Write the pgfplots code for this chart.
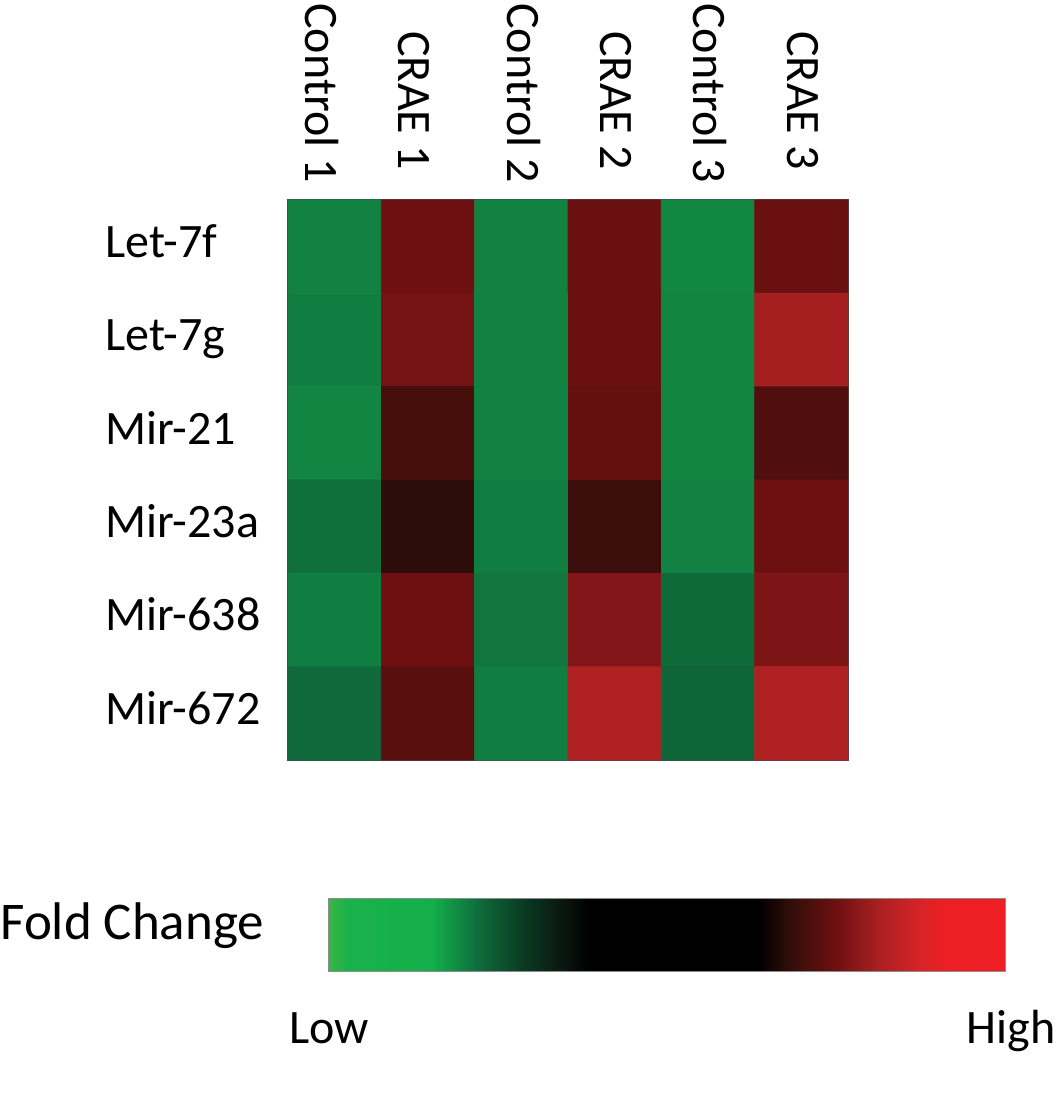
\documentclass[border=0pt]{standalone}
\usepackage{pgfplots}
\pgfplotsset{compat=1.18}
\usepackage{pgfplotstable}
\usepackage{fontspec}
\setmainfont{Carlito}
\pgfplotsset{colormap={foldchange}{
 rgb255(0pt)=(60,180,70);
 rgb255(30pt)=(25,178,75);
 rgb255(153pt)=(20,175,75);
 rgb255(220pt)=(15,110,60);
 rgb255(286pt)=(10,60,35);
 rgb255(350pt)=(10,20,15);
 rgb255(385pt)=(0,0,0);
 rgb255(636pt)=(0,0,0);
 rgb255(683pt)=(50,14,10);
 rgb255(750pt)=(110,16,17);
 rgb255(814pt)=(170,32,34);
 rgb255(880pt)=(220,35,38);
 rgb255(915pt)=(237,30,36);
 rgb255(1000pt)=(237,30,36)}}

% x = sample (Control 1, CRAE 1, Control 2, CRAE 2, Control 3, CRAE 3)
% y = miRNA (Let-7f, Let-7g, Mir-21, Mir-23a, Mir-638, Mir-672)
\pgfplotstableread{
x y c
0 0 199
1 0 750
2 0 199
3 0 745
4 0 194
5 0 745
0 1 204
1 1 758
2 1 199
3 1 745
4 1 197
5 1 809
0 2 196
1 2 706
2 2 199
3 2 740
4 2 197
5 2 717
0 3 218
1 3 678
2 3 204
3 3 694
4 3 199
5 3 750
0 4 204
1 4 750
2 4 212
3 4 771
4 4 225
5 4 766
0 5 226
1 5 728
2 5 204
3 5 819
4 5 230
5 5 819
}\heat

\begin{document}
\begin{tikzpicture}
\useasboundingbox (0,0) rectangle (531.5pt,547.5pt);
\begin{axis}[
 at={(144pt,167.5pt)}, anchor=south west,
 scale only axis, width=280pt, height=280pt,
 xmin=-0.5, xmax=5.5, ymin=-0.5, ymax=5.5,
 y dir=reverse,
 xtick=\empty,
 ytick={0,...,5},
 yticklabels={Let-7f,Let-7g,Mir-21,Mir-23a,Mir-638,Mir-672},
 yticklabel style={font=\fontsize{24}{28}\selectfont, anchor=base west, inner sep=0pt, xshift=-91.5pt, yshift=-5.5pt},
 major tick length=0pt,
 axis line style={draw=black!70, line width=0.6pt},
 colormap name=foldchange,
 point meta min=0, point meta max=1000,
 colorbar horizontal,
 colorbar/width=36.5pt,
 colorbar style={at={(parent axis.south west)}, anchor=north west, xshift=20pt, yshift=-60.5pt,
   scale only axis, width=338.5pt, xtick=\empty, major tick length=0pt, y dir=normal,
   axis line style={draw=black!45, line width=0.5pt}},
]
\addplot[matrix plot*, mesh/cols=6, point meta=explicit] table[meta=c] {\heat};
\end{axis}
\begin{scope}[every node/.style={font=\fontsize{24}{28}\selectfont, inner sep=0pt}]
\node[rotate=-90, anchor=base west] at (152.5pt,546pt) {Control 1};
\node[rotate=-90, anchor=base west] at (199pt,532pt) {CRAE 1};
\node[rotate=-90, anchor=base west] at (253.5pt,546pt) {Control 2};
\node[rotate=-90, anchor=base west] at (300pt,532pt) {CRAE 2};
\node[rotate=-90, anchor=base west] at (346.5pt,546pt) {Control 3};
\node[rotate=-90, anchor=base west] at (393.5pt,532pt) {CRAE 3};
\node[anchor=base west, font=\fontsize{26.5}{30}\selectfont] at (0pt,77.5pt) {Fold Change};
\node[anchor=base west] at (144.5pt,25.5pt) {Low};
\node[anchor=base east] at (528pt,25.5pt) {High};
\end{scope}
\end{tikzpicture}
\end{document}
